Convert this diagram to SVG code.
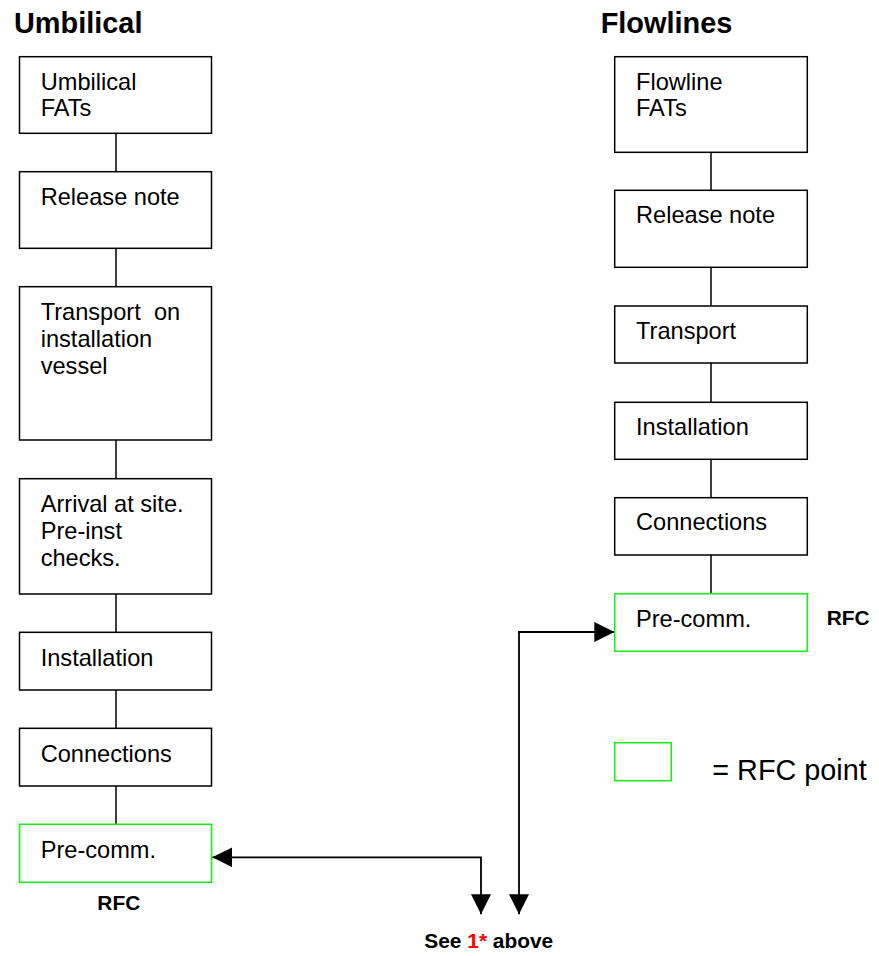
<svg xmlns="http://www.w3.org/2000/svg" width="879" height="956" viewBox="0 0 879 956">
<style>
.box{fill:#fff;stroke:#000;stroke-width:1.5}
.rfc{fill:#fff;stroke:#1ee81e;stroke-width:1.6}
.t{font-family:"Liberation Sans",Arial,sans-serif;font-size:23.6px;fill:#000}
.title{font-family:"Liberation Sans",Arial,sans-serif;font-size:28.9px;font-weight:bold;fill:#000}
.b{font-family:"Liberation Sans",Arial,sans-serif;font-size:20.9px;font-weight:bold;fill:#000}
.leg{font-family:"Liberation Sans",Arial,sans-serif;font-size:28.8px;fill:#000}
.ln{fill:none;stroke:#000;stroke-width:1.5}
.ar{fill:none;stroke:#000;stroke-width:1.8}
</style>
<defs>
<marker id="ah" markerUnits="userSpaceOnUse" markerWidth="20" markerHeight="20" viewBox="0 0 20 20" refX="20" refY="10" orient="auto-start-reverse">
<path d="M0,0 L20,10 L0,20 z" fill="#000"/>
</marker>
</defs>
<rect width="879" height="956" fill="#fff"/>
<text class="title" x="14" y="33.3">Umbilical</text>
<text class="title" x="600.7" y="33.3">Flowlines</text>
<g id="connectors">
<path class="ln" d="M116,133.3V171.7M116,248.3V286.7M116,440V478.7M116,594V632.3M116,690V728.3M116,786V824.3"/>
<path class="ln" d="M711,152.3V190.3M711,267.3V306M711,363V402.3M711,459.3V497.7M711,555V593.7"/>
<path class="ar" d="M481,914.3V857.3H212.3" marker-start="url(#ah)" marker-end="url(#ah)"/>
<path class="ar" d="M519,914.3V632H614.3" marker-start="url(#ah)" marker-end="url(#ah)"/>
</g>
<g id="u1"><rect class="box" x="19.5" y="56.7" width="192" height="76.6"/><text class="t" x="40.7" y="90">Umbilical<tspan x="40.7" dy="26">FATs</tspan></text></g>
<g id="u2"><rect class="box" x="19.5" y="171.7" width="192" height="76.6"/><text class="t" x="40.7" y="204.7">Release note</text></g>
<g id="u3"><rect class="box" x="19.5" y="286.7" width="192" height="153.3"/><text class="t" x="40.7" y="320" xml:space="preserve">Transport  on<tspan x="40.7" dy="26.8">installation</tspan><tspan x="40.7" dy="27">vessel</tspan></text></g>
<g id="u4"><rect class="box" x="19.5" y="478.7" width="192" height="115.3"/><text class="t" x="40.7" y="511.7">Arrival at site.<tspan x="40.7" dy="27.2">Pre-inst</tspan><tspan x="40.7" dy="27">checks.</tspan></text></g>
<g id="u5"><rect class="box" x="19.5" y="632.3" width="192" height="57.7"/><text class="t" x="40.7" y="665.5">Installation</text></g>
<g id="u6"><rect class="box" x="19.5" y="728.3" width="192" height="57.7"/><text class="t" x="40.7" y="761.5">Connections</text></g>
<g id="u7"><rect class="rfc" x="19.5" y="824.3" width="192" height="58"/><text class="t" x="40.7" y="858">Pre-comm.</text></g>
<text class="b" x="97.3" y="910">RFC</text>
<g id="f1"><rect class="box" x="614.7" y="56.7" width="192.6" height="95.6"/><text class="t" x="636" y="90">Flowline<tspan x="636" dy="26">FATs</tspan></text></g>
<g id="f2"><rect class="box" x="614.7" y="190.3" width="192.6" height="77"/><text class="t" x="636" y="223.3">Release note</text></g>
<g id="f3"><rect class="box" x="614.7" y="306" width="192.6" height="57"/><text class="t" x="636" y="338.5">Transport</text></g>
<g id="f4"><rect class="box" x="614.7" y="402.3" width="192.6" height="57"/><text class="t" x="636" y="434.5">Installation</text></g>
<g id="f5"><rect class="box" x="614.7" y="497.7" width="192.6" height="57.3"/><text class="t" x="636" y="530">Connections</text></g>
<g id="f6"><rect class="rfc" x="614.7" y="593.7" width="192.6" height="57.6"/><text class="t" x="636" y="626.7">Pre-comm.</text></g>
<text class="b" x="826.7" y="625">RFC</text>
<g id="legend"><rect class="rfc" x="614.7" y="742.7" width="56.6" height="38"/><text class="leg" x="712.3" y="780">= RFC point</text></g>
<text class="b" x="424.3" y="948">See <tspan fill="#ff0000">1*</tspan> above</text>
</svg>
